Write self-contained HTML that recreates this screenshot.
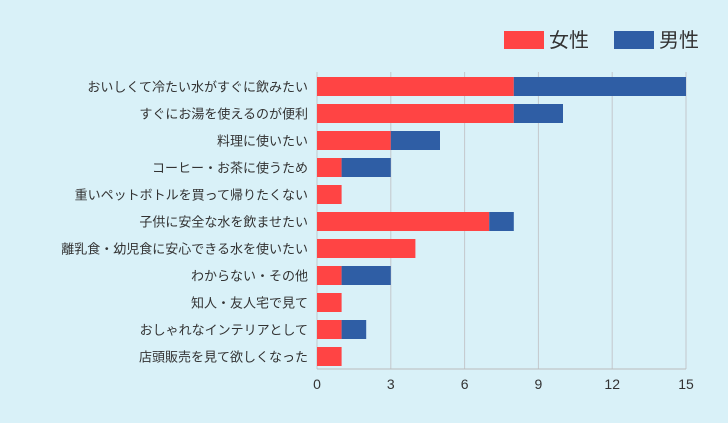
<!DOCTYPE html>
<html><head><meta charset="utf-8"><style>
body{margin:0;background:#d9f1f8;}
svg{display:block;font-family:"Liberation Sans","Noto Sans CJK JP",sans-serif;}
</style></head><body>
<svg id="chart" width="728" height="423" viewBox="0 0 728 423">
<rect x="0" y="0" width="728" height="423" fill="#d9f1f8"/>
<g>
<rect x="504" y="31" width="40" height="18" fill="#ff4444"/>
<text x="549" y="47" font-size="20" fill="#333">女性</text>
<rect x="614" y="31" width="40" height="18" fill="#2f5ea5"/>
<text x="659" y="47" font-size="20" fill="#333">男性</text>
</g>
<g id="grid"></g><g id="bars"></g><g id="labels"></g>
</svg>
<script>
const categories=["おいしくて冷たい水がすぐに飲みたい","すぐにお湯を使えるのが便利","料理に使いたい","コーヒー・お茶に使うため","重いペットボトルを買って帰りたくない","子供に安全な水を飲ませたい","離乳食・幼児食に安心できる水を使いたい","わからない・その他","知人・友人宅で見て","おしゃれなインテリアとして","店頭販売を見て欲しくなった"];
const female=[8,8,3,1,1,7,4,1,1,1,1];
const male=[7,2,2,2,0,1,0,2,0,1,0];
const ticks=[0,3,6,9,12,15];
const NS="http://www.w3.org/2000/svg";
const x0=317,x1=686,maxV=15,plotTop=72,plotBottom=369,rowH=27,barTop=77,barH=19;
const xs=v=>x0+(x1-x0)*v/maxV;
const ys=i=>barTop+i*rowH;
function mk(tag,attrs,parent){const e=document.createElementNS(NS,tag);for(const k in attrs)e.setAttribute(k,attrs[k]);document.getElementById(parent).appendChild(e);return e;}
ticks.forEach(t=>{
 const l=mk("line",{x1:xs(t),x2:xs(t),y1:plotTop,y2:plotBottom,stroke:"#c4c8cc","stroke-width":1},"grid");
 
 
 const tx=mk("text",{x:xs(t),y:389,"font-size":14,fill:"#333","text-anchor":"middle"},"grid");
 tx.textContent=t;
 
 
});
const ax=mk("line",{x1:x0,x2:x1,y1:plotBottom,y2:plotBottom,stroke:"#bbb","stroke-width":1},"grid");


categories.forEach((c,i)=>{
 const f=mk("rect",{x:xs(0),y:ys(i),width:xs(female[i])-xs(0),height:barH,fill:"#ff4444"},"bars");
 
 
 if(male[i]>0){
 const m=mk("rect",{x:xs(female[i]),y:ys(i),width:xs(female[i]+male[i])-xs(female[i]),height:barH,fill:"#2f5ea5"},"bars");
 
 
 }
 const t=mk("text",{x:308,y:ys(i)+barH/2+5,"font-size":13,fill:"#333","text-anchor":"end"},"labels");
 t.textContent=c;
 
 
});
</script>
</body></html>
